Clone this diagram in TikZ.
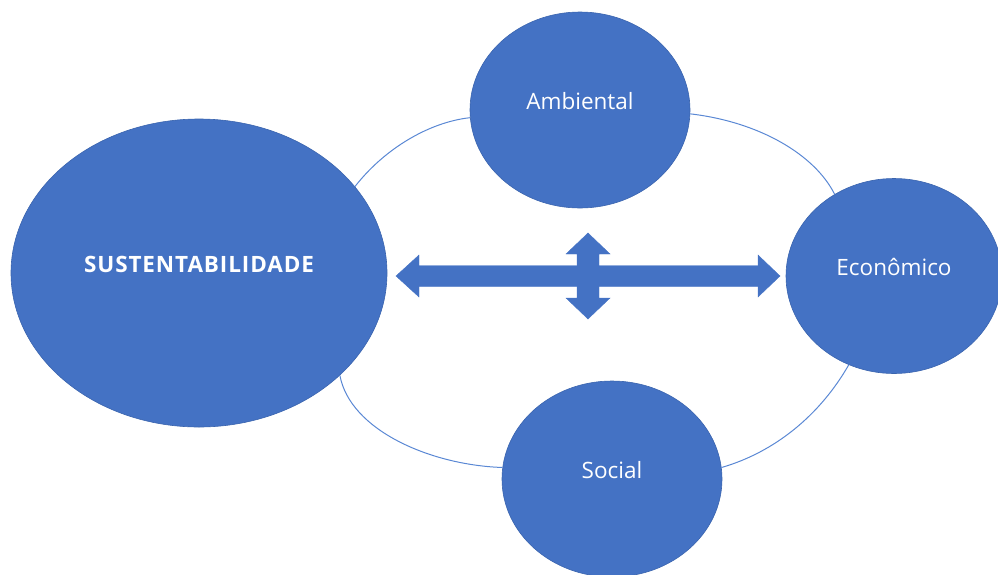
\documentclass[tikz,border=0pt]{standalone}
\usepackage{fontspec}
\setmainfont{Open Sans}
\newfontfamily\boldwide[LetterSpace=4]{Open Sans}
\usetikzlibrary{shapes.geometric}
\definecolor{fillblue}{HTML}{4472C4}
\definecolor{edgeblue}{HTML}{3A64AE}
\definecolor{linkblue}{HTML}{5A88D4}
\begin{document}
\begin{tikzpicture}[x=1pt,y=-1pt,
  blob/.style={ellipse, fill=fillblue, draw=edgeblue, line width=0.6pt, inner sep=0pt},
  lbl/.style={text=white, font=\fontsize{22.5}{27}\selectfont, yshift=9pt},
  lblbold/.style={text=white, font=\boldwide\fontsize{22.5}{27}\selectfont\bfseries, yshift=9pt},
  link/.style={draw=linkblue, line width=1pt},
  bigarrow/.style={fill=fillblue, draw=fillblue, line width=0.4pt, line join=miter}]
\useasboundingbox (0,0) rectangle (998,574);
\clip (0,0) rectangle (998,574);

\node[blob, minimum width=376pt, minimum height=308pt,
      label={[lblbold]center:SUSTENTABILIDADE}] (S) at (199,273) {};
\node[blob, minimum width=220pt, minimum height=196pt,
      label={[lbl]center:Ambiental}] (A) at (580,110) {};
\node[blob, minimum width=216pt, minimum height=195pt,
      label={[lbl]center:Econômico}] (E) at (894,276) {};
\node[blob, minimum width=220pt, minimum height=196pt,
      label={[lbl]center:Social}] (So) at (612,479) {};

\draw[link] (S.29) .. controls (385,148) and (430,122) .. (A.184);
\draw[link] (A.-2) .. controls (760,122) and (815,155) .. (E.126);
\draw[link] (E.243) .. controls (820,415) and (775,452) .. (So.6);
\draw[link] (So.174) .. controls (430,465) and (350,430) .. (S.-36);

\path[bigarrow]
  (396,276) -- (419,255) -- (419,265.5) -- (577,265.5) -- (577,254) -- (566,254)
  -- (588,233) -- (610,254) -- (599,254) -- (599,265.5) -- (758,265.5) -- (758,255)
  -- (780,276) -- (758,297) -- (758,286.5) -- (599,286.5) -- (599,298) -- (610,298)
  -- (588,319) -- (566,298) -- (577,298) -- (577,286.5) -- (419,286.5) -- (419,297)
  -- cycle;
\end{tikzpicture}
\end{document}
